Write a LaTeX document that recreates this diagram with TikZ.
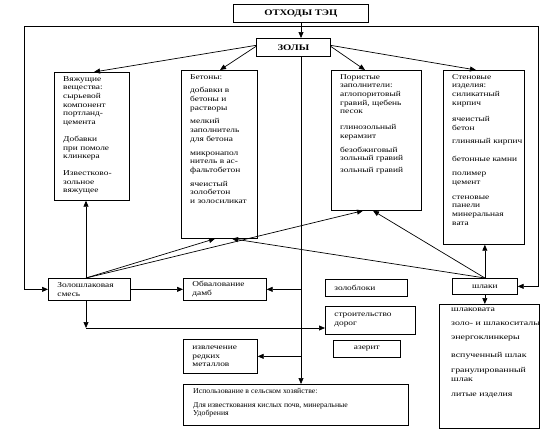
\documentclass[tikz,border=0pt]{standalone}
\usepackage{fontspec}
\setmainfont{Liberation Serif}[FakeStretch=1.25]
\newfontfamily\agrif{Liberation Serif}[FakeStretch=1.04]
\newfontfamily\slagf{Liberation Serif}[FakeStretch=1.32]
\usetikzlibrary{arrows.meta,calc}
\newcommand\txtf{\fontsize{7.5}{8.7}\selectfont}
\newcommand\ttlf{\bfseries\fontsize{8.5}{10}\selectfont}
\begin{document}
\begin{tikzpicture}[x=1pt,y=-1pt,
  every node/.style={font=\txtf},
  bbox/.style={draw, line width=0.7pt, anchor=north west, inner sep=0pt},
  btxt/.style={anchor=north west, inner xsep=9pt, inner ysep=4pt, align=left},
  sbox/.style={draw, line width=0.7pt, anchor=north west, inner xsep=9pt, inner ysep=0pt, align=left},
  cbox/.style={draw, line width=0.7pt, anchor=north west, inner sep=0pt, align=center},
  ln/.style={line width=0.7pt},
  arr/.style={line width=0.7pt, -{Triangle[length=6pt,width=5pt]}}]
\useasboundingbox (0,0) rectangle (547,440);

% titles
\node[cbox, minimum width=135pt, minimum height=18pt, font=\ttlf] (otx) at (233,4) {ОТХОДЫ ТЭЦ};
\node[cbox, minimum width=74pt, minimum height=18pt, font=\ttlf] (zoly) at (256,38) {ЗОЛЫ};

% big boxes
\node[bbox, minimum width=75pt, minimum height=128pt] (vyaz) at (54,72) {};
\node[btxt] (vyazt) at (vyaz.north west) {Вяжущие\\вещества:\\сырьевой\\компонент\\портланд-\\цемента\\[8pt]Добавки\\при помоле\\клинкера\\[8pt]Известково-\\зольное\\вяжущее};

\node[bbox, minimum width=76pt, minimum height=168pt] (beton) at (181,70) {};
\node[btxt] (betont) at (beton.north west) {Бетоны:\\[5pt]добавки в\\бетоны и\\растворы\\[5pt]мелкий\\заполнитель\\для бетона\\[5pt]микронапол\\нитель в ас-\\фальтобетон\\[5pt]ячеистый\\золобетон\\и золосиликат};

\node[bbox, minimum width=90pt, minimum height=140pt] (poris) at (331,70) {};
\node[btxt] (porist) at (poris.north west) {Пористые\\заполнители:\\аглопоритовый\\гравий, щебень\\песок\\[7pt]глинозольный\\керамзит\\[5pt]безобжиговый\\зольный гравий\\[3pt]зольный гравий};

\node[bbox, minimum width=81pt, minimum height=174pt] (sten) at (443,70) {};
\node[btxt] (stent) at (sten.north west) {Стеновые\\изделия:\\силикатный\\кирпич\\[8pt]ячеистый\\бетон\\[4pt]глиняный кирпич\\[9pt]бетонные камни\\[6pt]полимер\\цемент\\[6pt]стеновые\\панели\\минеральная\\вата};

% small boxes
\node[sbox, text width=64pt, minimum height=22pt] (zs) at (48,278) {Золошлаковая\\смесь};
\node[sbox, text width=65pt, minimum height=22pt] (obval) at (183,278) {Обвалование\\дамб};
\node[sbox, text width=64pt, minimum height=17pt] (zoloblok) at (325,279) {золоблоки};
\node[sbox, text width=72pt, minimum height=28pt] (road) at (325,306) {строительство\\дорог};
\node[cbox, minimum width=67pt, minimum height=17pt] (azerit) at (333,340) {азерит};
\node[sbox, text width=56pt, minimum height=34pt] (izvl) at (183,339) {извлечение\\редких\\металлов};
\node[cbox, minimum width=65pt, minimum height=16pt] (shlaki) at (452,278) {шлаки};

\node[bbox, minimum width=225pt, minimum height=41pt] (agri) at (183,384) {};
\node[btxt, inner xsep=10pt, font=\agrif\txtf] (agrit) at (agri.north west) {Использование в сельском хозяйстве:\\[5pt]Для известкования кислых почв, минеральные\\Удобрения};

\node[bbox, minimum width=100pt, minimum height=124pt] (slag) at (439,304) {};
\node[btxt, inner xsep=12pt, font=\slagf\txtf] (slagt) at (slag.north west) {шлаковата\\[5pt]золо- и шлакоситалы\\[5pt]энергоклинкеры\\[10pt]вспученный шлак\\[6pt]гранулированный\\шлак\\[7pt]литые изделия};

% coordinates
\coordinate (c) at (301,0);
\coordinate (fl) at (24,26);
\coordinate (fr) at (538,26);
\coordinate (xv) at (86,0);
\coordinate (zb) at (86,328);

% frame
\draw[ln] (fl) -- (fr);
\draw[arr] (fl) |- (zs.west);
\draw[arr] (fr) |- (shlaki.east);

% centre spine
\draw[arr] (otx.south -| c) -- (zoly.north -| c);
\draw[arr] (zoly.south -| c) -- (agri.north -| c);
\draw[arr] (obval.east -| c) -- (obval.east);
\draw[arr] (izvl.east -| c) -- (izvl.east);

% from ZOLY
\draw[arr] ($(zoly.west)+(0,-2)$) -- ($(vyaz.north west)+(40,0)$);
\draw[arr] ($(zoly.west)+(0,-1)$) -- ($(beton.north west)+(39,0)$);
\draw[arr] ($(zoly.east)+(0,-1)$) -- ($(poris.north west)+(34,0)$);
\draw[arr] ($(zoly.east)+(0,-2)$) -- ($(sten.north west)+(33,0)$);

% from ash-slag mixture
\draw[arr] (zs.north -| xv) -- (vyaz.south -| xv);
\draw[arr] (zs.north -| xv) -- ($(beton.south west)+(34,0)$);
\draw[arr] (zs.north -| xv) -- ($(poris.south west)+(32,0)$);
\draw[arr] (zs.east) -- (obval.west);
\draw[arr] (zs.south -| zb) -- (zb);
\draw[arr] (zb) -- (zb -| road.west);

% from slag
\draw[arr] (shlaki.north) -- (shlaki.north |- sten.south);
\draw[arr] (shlaki.north) -- ($(beton.south west)+(51,0)$);
\draw[arr] (shlaki.north) -- ($(poris.south west)+(42,0)$);
\draw[arr] (shlaki.south) -- (shlaki.south |- slag.north);
\end{tikzpicture}
\end{document}
